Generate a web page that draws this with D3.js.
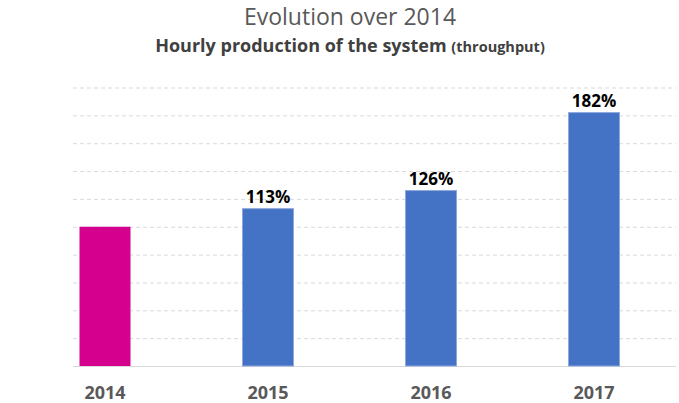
<!DOCTYPE html>
<html>
<head>
<meta charset="utf-8">
<script src="https://cdn.jsdelivr.net/npm/d3@7"></script>
<style>
  body { margin: 0; background: #fff; }
  svg { display: block; font-family: "Open Sans", sans-serif; }
</style>
</head>
<body>
<div id="chart"></div>
<script>
const years = ['2014', '2015', '2016', '2017'];
const values = [100, 113, 126, 182];
const valueLabels = ['', '113%', '126%', '182%'];
const gridTicks = [0, 20, 40, 60, 80, 100, 120, 140, 160, 180, 200];

const width = 679;
const height = 403;
const baseColor = '#4472C4';
const refColor = '#D6008F';
const gridColor = '#d9d9d9';
const textGrey = '#595959';

const svg = d3.select('#chart')
  .append('svg')
  .attr('width', width)
  .attr('height', height);

const xScale = d3.scaleBand()
  .domain(years)
  .range([23.5, 675.5])
  .paddingInner(0.687)
  .paddingOuter(0.3435);

const yScale = d3.scaleLinear()
  .domain([0, 200])
  .range([366, 87.5]);

// gridlines
const grid = svg.append('g')
  .attr('class', 'grid')
  .attr('transform', 'translate(73, 0)')
  .call(d3.axisRight(yScale).tickValues(gridTicks).tickSize(603).tickFormat(''));

grid.select('.domain').remove();
grid.selectAll('line')
  .attr('stroke', gridColor)
  .attr('stroke-dasharray', d => d === 0 ? null : '4,3')
  .attr('stroke-width', 1);

// bars
svg.append('g')
  .selectAll('rect')
  .data(values)
  .join('rect')
  .attr('x', (d, i) => xScale(years[i]))
  .attr('y', d => yScale(d))
  .attr('width', xScale.bandwidth())
  .attr('height', d => yScale(0) - yScale(d))
  .attr('fill', (d, i) => i === 0 ? refColor : baseColor)
  .attr('stroke', (d, i) => i === 0 ? 'none' : '#8fa9dc')
  .attr('stroke-width', 1);

// value labels
svg.append('g')
  .selectAll('text')
  .data(values)
  .join('text')
  .attr('x', (d, i) => xScale(years[i]) + xScale.bandwidth() / 2)
  .attr('y', d => yScale(d) - 6)
  .attr('text-anchor', 'middle')
  .attr('font-size', '17px')
  .attr('font-weight', 'bold')
  .attr('fill', '#000')
  .text((d, i) => valueLabels[i]);

// x axis
const xAxis = svg.append('g')
  .attr('transform', `translate(0, ${yScale(0)})`)
  .call(d3.axisBottom(xScale).tickSize(0).tickPadding(20));

xAxis.select('.domain').remove();
xAxis.selectAll('text')
  .attr('font-family', '"Open Sans", sans-serif')
  .attr('font-size', '18px')
  .attr('font-weight', 'bold')
  .attr('fill', textGrey);

// titles
svg.append('text')
  .attr('x', 350)
  .attr('y', 25)
  .attr('text-anchor', 'middle')
  .attr('font-size', '23px')
  .attr('fill', textGrey)
  .text('Evolution over 2014');

const sub = svg.append('text')
  .attr('x', 350)
  .attr('y', 51.5)
  .attr('text-anchor', 'middle')
  .attr('font-weight', 'bold')
  .attr('fill', '#404040');

sub.append('tspan')
  .attr('font-size', '18px')
  .text('Hourly production of the system ');
sub.append('tspan')
  .attr('font-size', '14.5px')
  .text('(throughput)');
</script>
</body>
</html>
